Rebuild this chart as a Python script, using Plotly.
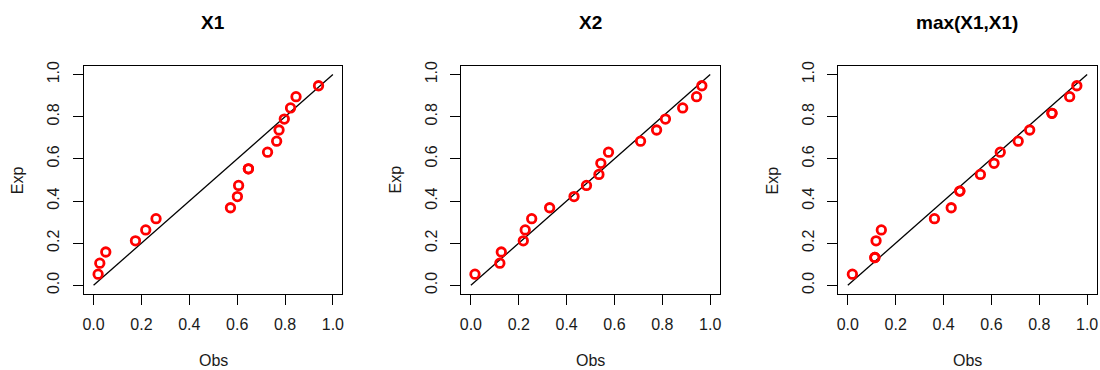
import plotly.graph_objects as go

# ---- data ----
titles = ["X1", "X2", "max(X1,X1)"]

x1_obs = [0.019, 0.026, 0.051, 0.175, 0.218, 0.261, 0.572, 0.601, 0.606,
          0.647, 0.647, 0.727, 0.765, 0.775, 0.797, 0.823, 0.846, 0.940]
x1_exp = [0.053, 0.105, 0.158, 0.211, 0.263, 0.316, 0.368, 0.421, 0.474,
          0.553, 0.553, 0.632, 0.684, 0.737, 0.789, 0.842, 0.895, 0.947]

x2_obs = [0.017, 0.121, 0.127, 0.219, 0.227, 0.254, 0.329, 0.431, 0.483,
          0.535, 0.543, 0.575, 0.709, 0.776, 0.813, 0.885, 0.943, 0.965]
x2_exp = [0.053, 0.105, 0.158, 0.211, 0.263, 0.316, 0.368, 0.421, 0.474,
          0.526, 0.579, 0.632, 0.684, 0.737, 0.789, 0.842, 0.895, 0.947]

mx_obs = [0.019, 0.113, 0.113, 0.118, 0.140, 0.362, 0.432, 0.468, 0.468,
          0.554, 0.611, 0.637, 0.712, 0.760, 0.853, 0.853, 0.927, 0.957]
mx_exp = [0.053, 0.132, 0.132, 0.211, 0.263, 0.316, 0.368, 0.447, 0.447,
          0.526, 0.579, 0.632, 0.684, 0.737, 0.816, 0.816, 0.895, 0.947]

ref_line = [0.0, 1.0]
tick_vals = [0.0, 0.2, 0.4, 0.6, 0.8, 1.0]
tick_text = ["0.0", "0.2", "0.4", "0.6", "0.8", "1.0"]

panels = [(x1_obs, x1_exp), (x2_obs, x2_exp), (mx_obs, mx_exp)]

# ---- layout geometry (pixels) ----
W, H = 1100, 370
box_left = [82.3, 461.0, 839.3]
box_w = 259.4
box_top, box_bottom = 62.0, 292.7

FONT = "Liberation Sans, Arial, Helvetica, sans-serif"
TXT = "#1a1a1a"

fig = go.Figure()
layout = dict(
    width=W, height=H, margin=dict(l=0, r=0, t=0, b=0),
    paper_bgcolor="white", plot_bgcolor="white", showlegend=False,
    font=dict(family=FONT, size=16, color="black"),
)
annotations = []

for i, (obs, ex) in enumerate(panels):
    n = "" if i == 0 else str(i + 1)
    xa, ya = "x" + n, "y" + n
    fig.add_trace(go.Scatter(x=ref_line, y=ref_line, mode="lines",
                             line=dict(color="black", width=1.3),
                             xaxis=xa, yaxis=ya, hoverinfo="skip"))
    fig.add_trace(go.Scatter(x=obs, y=ex, mode="markers",
                             marker=dict(symbol="circle-open", size=8.5,
                                         color="#FF0000",
                                         line=dict(width=2.8, color="#FF0000")),
                             xaxis=xa, yaxis=ya))
    x0 = box_left[i] / W
    x1 = (box_left[i] + box_w) / W
    common = dict(range=[-0.04, 1.04], showgrid=False, zeroline=False,
                  showline=True, mirror=True, linecolor="black", linewidth=1.3,
                  ticks="outside", ticklen=10, tickwidth=1.3, tickcolor="black",
                  tickvals=tick_vals, ticktext=tick_text,
                  tickfont=dict(family=FONT, size=16, color=TXT))
    layout["xaxis" + n] = dict(common, domain=[x0, x1], anchor=ya,
                               ticklabelstandoff=6)
    layout["yaxis" + n] = dict(common, domain=[1 - box_bottom / H, 1 - box_top / H],
                               anchor=xa, tickangle=-90, ticklabelstandoff=7)
    cx = (box_left[i] + box_w / 2) / W
    annotations.append(dict(text="<b>" + titles[i] + "</b>", x=cx, y=1 - 18 / H,
                            xref="paper", yref="paper", showarrow=False,
                            xanchor="center", yanchor="middle",
                            font=dict(family=FONT, size=19, color="black")))
    annotations.append(dict(text="Obs", x=cx, y=1 - 360 / H,
                            xref="paper", yref="paper", showarrow=False,
                            xanchor="center", yanchor="middle",
                            font=dict(family=FONT, size=16, color=TXT)))
    annotations.append(dict(text="Exp", x=(box_left[i] - 66.0) / W,
                            y=1 - ((box_top + box_bottom) / 2) / H,
                            xref="paper", yref="paper", showarrow=False,
                            textangle=-90, xanchor="center", yanchor="middle",
                            font=dict(family=FONT, size=16, color=TXT)))

layout["annotations"] = annotations
fig.update_layout(**layout)

fig.write_html("out.html", config={"displayModeBar": False},
               post_script="document.body.style.margin='0';document.body.style.overflow='hidden';")
